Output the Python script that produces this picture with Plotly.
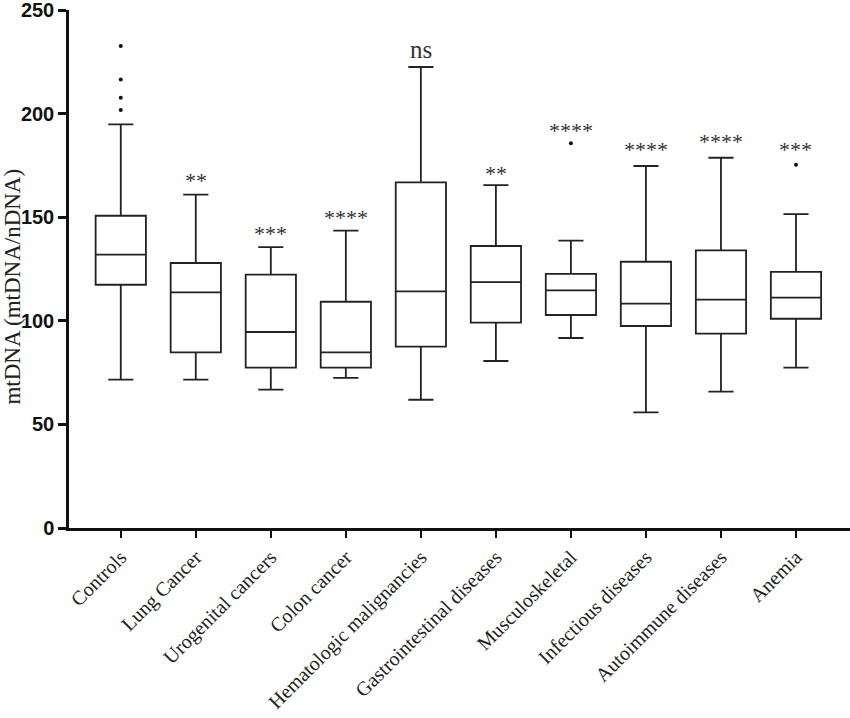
import plotly.graph_objects as go

categories = ["Controls", "Lung Cancer", "Urogenital cancers", "Colon cancer",
              "Hematologic malignancies", "Gastrointestinal diseases", "Musculoskeletal",
              "Infectious diseases", "Autoimmune diseases", "Anemia"]
lower = [71.6, 71.6, 66.8, 72.5, 61.9, 80.6, 91.7, 55.8, 65.8, 77.4]
q1 = [117.4, 84.8, 77.4, 77.4, 87.5, 99.1, 102.8, 97.5, 93.8, 101.0]
median = [131.9, 113.7, 94.6, 84.8, 114.2, 118.7, 114.7, 108.3, 110.2, 111.2]
q3 = [150.7, 127.9, 122.3, 109.2, 166.8, 136.1, 122.6, 128.5, 134.0, 123.6]
upper = [194.8, 160.9, 135.6, 143.5, 222.5, 165.5, 138.7, 174.7, 178.7, 151.5]

outlier_cat = ["Controls", "Controls", "Controls", "Controls", "Musculoskeletal", "Anemia"]
outlier_val = [232.6, 216.5, 207.7, 201.7, 185.7, 175.3]

sig_labels = ["", "**", "***", "****", "ns", "**", "****", "****", "****", "***"]
sig_y = [0, 167.5, 142.0, 149.8, 231.0, 171.2, 191.7, 182.7, 186.5, 182.7]

fig = go.Figure()
fig.add_trace(go.Box(
    x=categories, q1=q1, median=median, q3=q3,
    lowerfence=lower, upperfence=upper,
    fillcolor="white", line=dict(color="#222222", width=1.8),
    whiskerwidth=0.5, width=0.67, boxpoints=False, showlegend=False,
    hoverinfo="skip"))
fig.add_trace(go.Scatter(
    x=outlier_cat, y=outlier_val, mode="markers",
    marker=dict(color="#111111", size=4), showlegend=False, hoverinfo="skip"))

for c, t, y in zip(categories, sig_labels, sig_y):
    if t:
        fig.add_annotation(x=c, y=y, text=t, showarrow=False,
                           yanchor="middle", xanchor="center",
                           font=dict(family="Liberation Serif", size=25 if t == "ns" else 22,
                                     color="#333333"))

fig.add_annotation(xref="paper", yref="paper", x=0, y=0.466, xshift=-56,
                   text="mtDNA (mtDNA/nDNA)", textangle=-90, showarrow=False,
                   xanchor="center", yanchor="middle",
                   font=dict(family="Liberation Serif", size=23, color="#222222"))

fig.update_layout(
    width=850, height=718,
    margin=dict(l=69, r=0, t=10, b=190),
    paper_bgcolor="white", plot_bgcolor="white",
    xaxis=dict(
        type="category", categoryorder="array", categoryarray=categories,
        range=[-0.69, 9.72], showline=True, linecolor="#111111", linewidth=2.5,
        ticks="outside", ticklen=7, tickwidth=2, tickcolor="#111111",
        tickangle=-45, showgrid=False, zeroline=False, automargin=False,
        tickfont=dict(family="Liberation Serif", size=20, color="#222222")),
    yaxis=dict(
        range=[0, 250], tickvals=[0, 50, 100, 150, 200, 250],
        showline=True, linecolor="#111111", linewidth=2.5,
        ticks="outside", ticklen=8, tickwidth=2.5, tickcolor="#111111",
        showgrid=False, zeroline=False, automargin=False,
        ticklabeloverflow="allow",
        tickfont=dict(family="Liberation Sans", size=20, color="#111111", weight="bold")),
)

fig.write_html("out.html", config={"displayModeBar": False},
               post_script="document.body.style.margin='0';document.body.style.overflow='hidden';")
